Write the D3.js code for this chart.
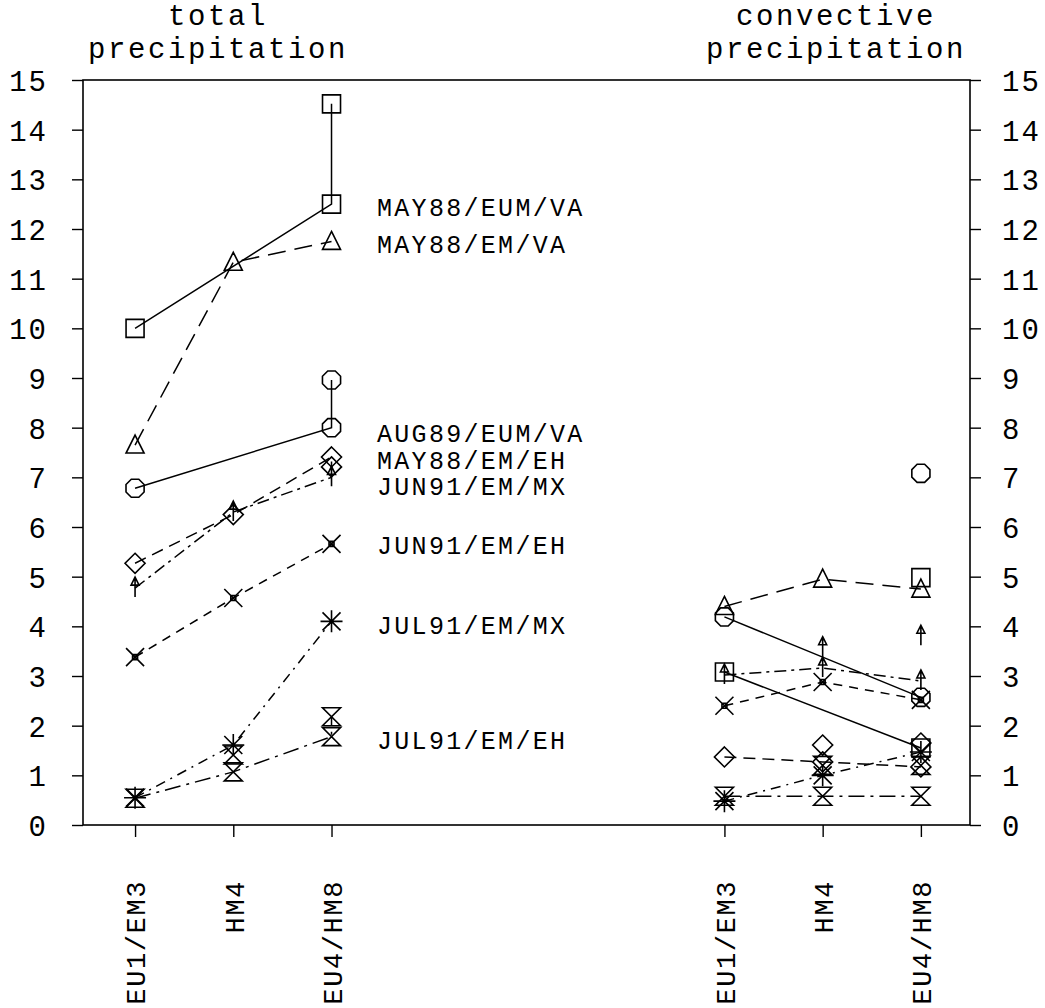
<!DOCTYPE html>
<html><head><meta charset="utf-8">
<script src="https://cdn.jsdelivr.net/npm/d3@7"></script>
<style>body{margin:0;background:#fff}svg{display:block}text{font-family:"Liberation Mono","DejaVu Sans Mono",monospace;fill:#000}</style>
</head><body><svg id="c" width="1045" height="1008"></svg>
<script>
// categories: index positions on the x axis
const categories = ["EU1/EM3","HM4","EU4/HM8"];
const leftPos = [0,1,2];
const rightPos = [6,7,8];
const yTicks = [0,1,2,3,4,5,6,7,8,9,10,11,12,13,14,15];
const seriesNames = ["MAY88/EUM/VA","MAY88/EM/VA","AUG89/EUM/VA","MAY88/EM/EH","JUN91/EM/MX","JUN91/EM/EH","JUL91/EM/MX","JUL91/EM/EH"];
const markers = ["square","triangle","octagon","diamond","arrow","xbox","asterisk","hourglass"];
const dashes = ["", "18,9", "", "12,7", "12,5,3,5", "9,7", "10,6,2,6", "16,6,3,6"];
// total precipitation, values at EU1/EM3, HM4, EU4/HM8 (null = no point)
const totalVals = [
  [10.0, null, 12.5],
  [7.65, 11.33, 11.75],
  [6.78, null, 8.0],
  [5.27, 6.25, 7.41],
  [4.77, 6.3, 7.0],
  [3.38, 4.57, 5.66],
  [0.55, 1.61, 4.1],
  [0.54, 1.07, 1.78]
];
// second value at EU4/HM8 joined by a vertical line (total)
const totalSecond = [14.52, null, 8.96, 7.21, null, null, null, 2.18];
// extra unconnected markers at HM4 (total)
const totalExtraHM4 = [null, null, null, null, null, null, null, 1.41];
// convective precipitation
const convVals = [
  [3.08, null, 1.55],
  [4.4, 4.95, 4.75],
  [4.19, null, 2.57],
  [1.37, 1.27, 1.17],
  [3.02, 3.16, 2.9],
  [2.4, 2.88, 2.52],
  [0.48, 1.0, 1.47],
  [0.58, 0.58, 0.58]
];
const convExtraHM4 = [null, null, null, 1.61, 3.57, null, null, 1.2];
const convExtraEU4 = [4.98, null, 7.08, 1.65, 3.8, null, null, 1.2];
// label anchors (value axis) for the series names
const labelAt = [12.45, 11.7, 7.9, 7.35, 6.82, 5.64, 4.03, 1.72];

const svg = d3.select("#c");
const x = d3.scaleLinear().domain([-0.53, 8.5]).range([83, 970]);
const y = d3.scaleLinear().domain([0, 15]).range([825, 80]);

const g = svg.append("g");
// frame
g.append("rect").attr("x", x(-0.53)).attr("y", y(15)).attr("width", x(8.5)-x(-0.53)).attr("height", y(0)-y(15))
  .attr("fill","none").attr("stroke","#000").attr("stroke-width",1.6);

// y axes
const yl = d3.axisLeft(y).tickValues(yTicks).tickSize(11).tickPadding(24);
const gl = g.append("g").attr("transform",`translate(${x(-0.53)},0)`).call(yl);
const yr = d3.axisRight(y).tickValues(yTicks).tickSize(11).tickPadding(21);
const gr = g.append("g").attr("transform",`translate(${x(8.5)},0)`).call(yr);
[gl,gr].forEach(a=>{a.select(".domain").remove();a.selectAll("line").attr("stroke","#000").attr("stroke-width",1.4);
  a.selectAll("text").attr("font-size",29).attr("font-family","Liberation Mono").attr("letter-spacing",2).attr("dy","0.36em");});

// x axis
const xTickPos = leftPos.concat(rightPos);
const xTickLab = categories.concat(categories);
const xa = d3.axisBottom(x).tickValues(xTickPos).tickSize(12).tickFormat((d,i)=>xTickLab[i]);
const gx = g.append("g").attr("transform",`translate(0,${y(0)})`).call(xa);
gx.select(".domain").remove();
gx.selectAll("line").attr("stroke","#000").attr("stroke-width",1.4);
gx.selectAll("text").attr("font-size",27).attr("font-family","Liberation Mono").attr("letter-spacing",1.6)
  .attr("text-anchor","end").attr("transform","rotate(-90)").attr("x",-55).attr("y",0).attr("dy","0.36em");

// titles
const titles = [["total","precipitation",218],["convective","precipitation",836]];
titles.forEach(t=>{
  g.append("text").attr("x",t[2]).attr("y",25).attr("text-anchor","middle").attr("font-size",29).attr("letter-spacing",2.6).text(t[0]);
  g.append("text").attr("x",t[2]).attr("y",58).attr("text-anchor","middle").attr("font-size",29).attr("letter-spacing",2.6).text(t[1]);
});

// marker shapes
function markerPath(type){
  switch(type){
    case "square": return "M-9,-9H9V9H-9Z";
    case "triangle": return "M0,-10L9,8H-9Z";
    case "octagon": {let p=[];for(let k=0;k<8;k++){const a=Math.PI/8+k*Math.PI/4;p.push([9.8*Math.cos(a),9.8*Math.sin(a)]);}return "M"+p.map(q=>q.join(",")).join("L")+"Z";}
    case "diamond": return "M0,-10L10,0L0,10L-10,0Z";
    case "arrow": return "M0,-11L4,-3H-4ZM0,-11V9";
    case "xbox": return "M-9,-9L9,9M-9,9L9,-9M-2.5,-2.5H2.5V2.5H-2.5Z";
    case "asterisk": return "M-9,-9L9,9M-9,9L9,-9M0,-11V11M-11,0H11";
    case "hourglass": return "M-9,-9H9L-9,9H9Z";
  }
}
const line = d3.line().x(d=>x(d[0])).y(d=>y(d[1]));
function drawPanel(vals, pos, second, extraHM4, extraEU4){
  vals.forEach((row,si)=>{
    let pts = [];
    row.forEach((v,i)=>{ if(v!=null) pts.push([pos[i], v]); });
    if(second && second[si]!=null) pts.push([pos[2], second[si]]);
    g.append("path").attr("d", line(pts)).attr("fill","none").attr("stroke","#000").attr("stroke-width",1.5)
      .attr("stroke-dasharray", dashes[si]);
    let mk = pts.slice();
    if(extraHM4 && extraHM4[si]!=null) mk.push([pos[1], extraHM4[si]]);
    if(extraEU4 && extraEU4[si]!=null) mk.push([pos[2], extraEU4[si]]);
    g.selectAll(null).data(mk).enter().append("path")
      .attr("transform", d=>`translate(${x(d[0])},${y(d[1])})`)
      .attr("d", markerPath(markers[si])).attr("fill","none").attr("stroke","#000").attr("stroke-width",1.6);
  });
}
drawPanel(totalVals, leftPos, totalSecond, totalExtraHM4, null);
drawPanel(convVals, rightPos, null, convExtraHM4, convExtraEU4);

// series labels
g.selectAll(null).data(seriesNames).enter().append("text")
  .attr("x", 377).attr("y", (d,i)=>y(labelAt[i])).attr("dy","0.36em").attr("font-size",25).attr("letter-spacing",2.3).text(d=>d);
</script></body></html>
